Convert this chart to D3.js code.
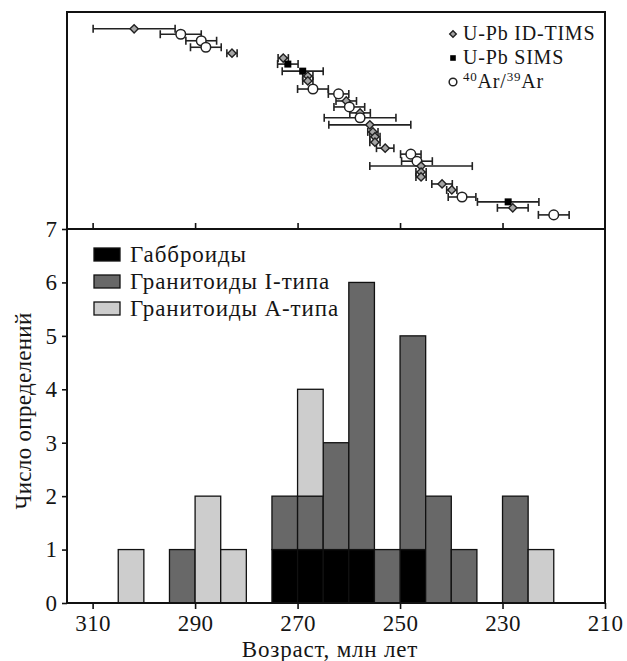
<!DOCTYPE html>
<html>
<head>
<meta charset="utf-8">
<script src="https://cdn.jsdelivr.net/npm/d3@7"></script>
<style>
	body { margin: 0; background: #fff; }
	svg text { font-family: "Liberation Serif", "DejaVu Serif", serif; fill: #151515; }
</style>
</head>
<body>
<svg id="chart" width="627" height="661"></svg>
<script>
// histogram bins (older edge of each 5 Ma bin)
var binStart = [305, 295, 290, 285, 275, 270, 265, 260, 255, 250, 245, 240, 230, 225];
var gabbro   = [0, 0, 0, 0, 1, 1, 1, 1, 0, 1, 0, 0, 0, 0];
var graniteI = [0, 1, 0, 0, 1, 1, 2, 5, 1, 4, 2, 1, 2, 0];
var graniteA = [1, 0, 2, 1, 0, 2, 0, 0, 0, 0, 0, 0, 0, 1];
var seriesNames = ["Габброиды", "Гранитоиды I-типа", "Гранитоиды A-типа"];

// dated samples (top panel), ordered by row
var ages    = [301.9, 292.8, 288.8, 287.9, 282.8, 272.8, 271.9, 269.0, 268.0, 268.0, 267.0, 262.0, 260.5, 259.9, 257.8, 257.8,
               255.9, 255.3, 254.9, 254.9, 252.9, 247.9, 246.7, 245.9, 245.9, 245.9, 241.8, 239.9, 237.9, 228.9, 228.0, 220.0];
var errors  = [8, 4, 3, 3, 1, 1, 2, 4, 1, 1, 3, 2, 2, 3, 2, 7,
               8, 1, 1, 1, 1.7, 2, 3, 10, 1, 1, 2, 1, 2.7, 6, 3, 3];
var methods = ["tims", "ar", "ar", "ar", "tims", "tims", "sims", "sims", "tims", "tims", "ar", "ar", "tims", "ar", "tims", "ar",
               "tims", "tims", "tims", "tims", "tims", "ar", "ar", "tims", "tims", "tims", "tims", "tims", "ar", "sims", "tims", "ar"];
var rows    = [3.1, 4.1, 5.3, 6.5, 7.6, 8.5, 9.6, 10.9, 11.8, 12.7, 14.2, 15.1, 16.4, 17.5, 18.6, 19.5,
               20.8, 22.1, 23.0, 24.0, 25.1, 26.2, 27.5, 28.4, 29.5, 30.4, 31.7, 32.8, 34.1, 35.0, 36.1, 37.4];

var xTicks = [310, 290, 270, 250, 230, 210];
var yTicks = [0, 1, 2, 3, 4, 5, 6, 7];

var svg = d3.select("#chart"),
	left = 67, right = 605, topY = 12, mid = 229, bottom = 603;

var x = d3.scaleLinear().domain([315, 210]).range([left, right]);
var y = d3.scaleLinear().domain([0, 7]).range([bottom, mid]);
var yRow = d3.scaleLinear().domain([0, 40]).range([topY, mid]);
var color = d3.scaleOrdinal().domain(seriesNames).range(["#000000", "#686868", "#cdcdcd"]);

// ---- histogram ----
var table = binStart.map(function(b, i) {
	var o = {start: b};
	o[seriesNames[0]] = gabbro[i];
	o[seriesNames[1]] = graniteI[i];
	o[seriesNames[2]] = graniteA[i];
	return o;
});
var stacked = d3.stack().keys(seriesNames)(table);

svg.append("g")
	.selectAll("g")
	.data(stacked)
	.enter().append("g")
	.attr("fill", function(d) { return color(d.key); })
	.selectAll("rect")
	.data(function(d) { return d.filter(function(p) { return p[1] > p[0]; }); })
	.enter().append("rect")
	.attr("x", function(d) { return x(d.data.start); })
	.attr("width", function(d) { return x(d.data.start - 5) - x(d.data.start); })
	.attr("y", function(d) { return y(d[1]); })
	.attr("height", function(d) { return y(d[0]) - y(d[1]); })
	.attr("stroke", "#111")
	.attr("stroke-width", 1.3);

// ---- axes ----
var xAxis = svg.append("g")
	.attr("transform", "translate(0," + bottom + ")")
	.call(d3.axisBottom(x).tickValues(xTicks).tickSize(6).tickPadding(6).tickFormat(d3.format("d")));
xAxis.select(".domain").remove();
xAxis.selectAll("line").attr("stroke", "#111").attr("stroke-width", 1.6);
xAxis.selectAll("text").style("font-size", "23px").style("letter-spacing", "0.4px").attr("fill", "#151515");

var yAxis = svg.append("g")
	.attr("transform", "translate(" + left + ",0)")
	.call(d3.axisLeft(y).tickValues(yTicks).tickSize(5).tickPadding(5).tickFormat(d3.format("d")));
yAxis.select(".domain").remove();
yAxis.selectAll("line").attr("stroke", "#111").attr("stroke-width", 1.6);
yAxis.selectAll("text").style("font-size", "23px").attr("fill", "#151515");

// ticks pointing up into top panel
var topTicks = svg.append("g")
	.attr("transform", "translate(0," + mid + ")")
	.call(d3.axisTop(x).tickValues(xTicks.slice(0, 5)).tickSize(6).tickFormat(""));
topTicks.select(".domain").remove();
topTicks.selectAll("line").attr("stroke", "#111").attr("stroke-width", 1.6);

// frame
svg.append("rect")
	.attr("x", left).attr("y", topY)
	.attr("width", right - left).attr("height", bottom - topY)
	.attr("fill", "none").attr("stroke", "#111").attr("stroke-width", 2);
svg.append("line")
	.attr("x1", left).attr("x2", right).attr("y1", mid).attr("y2", mid)
	.attr("stroke", "#111").attr("stroke-width", 2);

// axis titles
svg.append("text")
	.attr("x", 330).attr("y", 657)
	.attr("text-anchor", "middle")
	.style("font-size", "23px").style("letter-spacing", "0.8px")
	.text("Возраст, млн лет");
svg.append("text")
	.attr("transform", "translate(31,411) rotate(-90)")
	.attr("text-anchor", "middle")
	.style("font-size", "23px").style("letter-spacing", "0.3px")
	.text("Число определений");

// histogram legend
var leg = svg.append("g").attr("transform", "translate(94,248)");
seriesNames.forEach(function(name, i) {
	var g = leg.append("g").attr("transform", "translate(0," + (i * 27) + ")");
	g.append("rect").attr("width", 26).attr("height", 13)
		.attr("fill", color(name)).attr("stroke", "#111").attr("stroke-width", 1.3);
	g.append("text").attr("x", 36).attr("y", 14).style("font-size", "23px").style("letter-spacing", "0.9px").text(name);
});

// ---- top panel: ages with error bars ----
var pts = ages.map(function(a, i) {
	return {age: a, err: errors[i], method: methods[i], row: rows[i]};
});

var eb = svg.append("g").attr("stroke", "#222").attr("stroke-width", 1.6);
eb.selectAll("line.bar")
	.data(pts)
	.enter().append("line")
	.attr("class", "bar")
	.attr("x1", function(d) { return x(d.age + d.err); })
	.attr("x2", function(d) { return x(d.age - d.err); })
	.attr("y1", function(d) { return yRow(d.row); })
	.attr("y2", function(d) { return yRow(d.row); });
[-1, 1].forEach(function(s) {
	eb.selectAll("line.cap" + (s + 1))
		.data(pts)
		.enter().append("line")
		.attr("class", "cap" + (s + 1))
		.attr("x1", function(d) { return x(d.age + s * d.err); })
		.attr("x2", function(d) { return x(d.age + s * d.err); })
		.attr("y1", function(d) { return yRow(d.row) - 4; })
		.attr("y2", function(d) { return yRow(d.row) + 4; });
});

function marker(sel, method, k) {
	k = k || 1;
	if (method === "tims") {
		sel.append("path").attr("d", d3.symbol().type(d3.symbolSquare).size(34 * k * k))
			.attr("transform", "rotate(45)")
			.attr("fill", "#a5a5a5").attr("stroke", "#222").attr("stroke-width", 1.4);
	} else if (method === "sims") {
		sel.append("rect").attr("x", -3.5 * k).attr("y", -3.5 * k).attr("width", 7 * k).attr("height", 7 * k)
			.attr("fill", "#000");
	} else {
		sel.append("circle").attr("r", 4.8 * k)
			.attr("fill", "#fff").attr("stroke", "#222").attr("stroke-width", 1.5);
	}
}

svg.append("g")
	.selectAll("g")
	.data(pts)
	.enter().append("g")
	.attr("transform", function(d) { return "translate(" + x(d.age) + "," + yRow(d.row) + ")"; })
	.each(function(d) { marker(d3.select(this), d.method); });

// method legend
var mleg = svg.append("g").attr("transform", "translate(453,34)");
var mItems = [["tims", "U-Pb ID-TIMS"], ["sims", "U-Pb SIMS"], ["ar", null]];
mItems.forEach(function(m, i) {
	var g = mleg.append("g").attr("transform", "translate(0," + (i * 24) + ")");
	var s = g.append("g");
	marker(s, m[0], 0.8);
	var t = g.append("text").attr("x", 10).attr("y", 6).style("font-size", "20px").style("letter-spacing", "0.8px");
	if (m[1]) {
		t.text(m[1]);
	} else {
		t.append("tspan").attr("dy", -7).style("font-size", "13px").text("40");
		t.append("tspan").attr("dy", 7).text("Ar/");
		t.append("tspan").attr("dy", -7).style("font-size", "13px").text("39");
		t.append("tspan").attr("dy", 7).text("Ar");
	}
});
</script>
</body>
</html>
